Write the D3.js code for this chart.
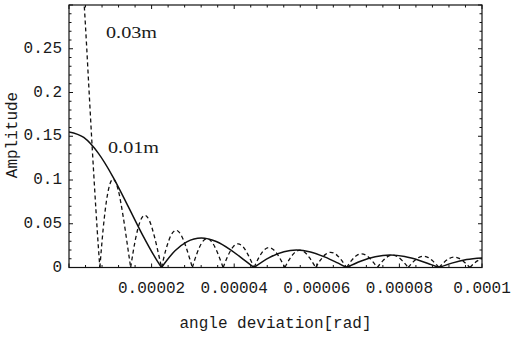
<!DOCTYPE html>
<html>
<head>
<meta charset="utf-8">
<script src="https://cdn.jsdelivr.net/npm/d3@7"></script>
<style>
  body { margin: 0; background: #fff; }
  text { font-family: "Liberation Mono", "DejaVu Sans Mono", monospace; fill: #1a1a1a; }
</style>
</head>
<body>
<svg id="chart"></svg>
<script>
// angle deviation in micro-radians, amplitude
var solidX = [0, 3.57, 7.13, 10.70, 14.26, 17.83, 21.39, 22.4,
  25.67, 28.52, 32.04, 35.65, 39.22, 42.78, 44.8,
  48.49, 52.05, 55.08, 58.47, 62.03, 64.88, 67.2,
  70.59, 74.15, 77.75, 81.28, 84.85, 87.70, 89.6,
  92.69, 96.26, 100];
var solidY = [0.155, 0.1486, 0.1304, 0.1031, 0.0705, 0.0371, 0.0073, 0,
  0.0191, 0.0293, 0.0337, 0.0297, 0.0199, 0.0072, 0,
  0.0113, 0.0181, 0.0199, 0.0178, 0.0118, 0.0055, 0,
  0.0072, 0.0123, 0.0142, 0.0125, 0.0081, 0.0033, 0,
  0.0050, 0.0092, 0.0110];

var dashX = [0, 2.38, 3.57, 4.28, 4.75, 5.94, 7.13, 7.47,
  8.56, 9.51, 10.68, 11.88, 13.07, 14.26, 14.93,
  16.16, 17.35, 18.36, 19.49, 20.68, 21.63, 22.4,
  23.53, 24.72, 25.92, 27.09, 28.28, 29.23, 29.87,
  30.90, 32.09, 33.43, 34.70, 35.89, 36.84, 37.33,
  38.50, 39.69, 40.93, 42.19, 43.37, 44.21, 44.80,
  45.99, 47.18, 48.42, 49.67, 50.86, 51.69, 52.27,
  53.45, 54.64, 55.90, 57.14, 58.32, 59.16, 59.73,
  60.92, 62.10, 63.36, 64.60, 65.79, 66.62, 67.20,
  68.38, 69.57, 70.83, 72.06, 73.25, 74.08, 74.67,
  75.86, 77.05, 78.31, 79.55, 80.74, 81.57, 82.13,
  83.33, 84.52, 85.78, 87.01, 88.20, 89.03, 89.60,
  90.79, 91.98, 93.24, 94.47, 95.66, 96.49, 97.07,
  98.25, 100];
var dashY = [0.465, 0.391, 0.309, 0.252, 0.211, 0.111, 0.022, 0,
  0.0572, 0.0880, 0.1010, 0.0892, 0.0596, 0.0217, 0,
  0.0338, 0.0542, 0.0597, 0.0533, 0.0354, 0.0164, 0,
  0.0215, 0.0370, 0.0425, 0.0375, 0.0242, 0.0100, 0,
  0.0150, 0.0277, 0.0330, 0.0285, 0.0176, 0.0062, 0,
  0.0136, 0.0233, 0.0270, 0.0234, 0.0144, 0.0062, 0,
  0.0115, 0.0197, 0.0228, 0.0197, 0.0121, 0.0051, 0,
  0.0099, 0.0170, 0.0198, 0.0172, 0.0106, 0.0045, 0,
  0.0087, 0.0150, 0.0174, 0.0152, 0.0094, 0.0040, 0,
  0.0078, 0.0134, 0.0156, 0.0136, 0.0084, 0.0036, 0,
  0.0070, 0.0121, 0.0141, 0.0123, 0.0076, 0.0032, 0,
  0.0064, 0.0110, 0.0129, 0.0113, 0.0070, 0.0030, 0,
  0.0058, 0.0101, 0.0119, 0.0104, 0.0064, 0.0027, 0,
  0.0054, 0.0104];

var xTicks = [20, 40, 60, 80, 100];
var xTickLabels = ["0.00002", "0.00004", "0.00006", "0.00008", "0.0001"];
var yTicks = [0, 0.05, 0.1, 0.15, 0.2, 0.25];
var yTickLabels = ["0", "0.05", "0.1", "0.15", "0.2", "0.25"];
var seriesNames = ["0.01m", "0.03m"];

var width = 515, height = 337;
var svg = d3.select("#chart").attr("width", width).attr("height", height);

var x = d3.scaleLinear().domain([0, 100]).range([69, 482]);
var y = d3.scaleLinear().domain([0, 0.3]).range([267.5, 5]);

svg.append("clipPath").attr("id", "plot")
  .append("rect")
  .attr("x", x(0)).attr("y", y(0.3))
  .attr("width", x(100) - x(0)).attr("height", y(0) - y(0.3));

// split a series into lobes at its zeros so the cusps stay sharp
function lobes(xs, ys) {
  var out = [], cur = [];
  for (var i = 0; i < xs.length; i++) {
    cur.push([xs[i], ys[i]]);
    if (ys[i] === 0 && cur.length > 1) { out.push(cur); cur = [[xs[i], ys[i]]]; }
  }
  if (cur.length > 1) out.push(cur);
  return out;
}

var line = d3.line()
  .x(function(d){ return x(d[0]); })
  .y(function(d){ return y(d[1]); })
  .curve(d3.curveMonotoneX);

var g = svg.append("g").attr("clip-path", "url(#plot)");

g.selectAll("path.dash")
  .data(lobes(dashX, dashY))
  .enter().append("path")
  .attr("class", "dash")
  .attr("d", line)
  .attr("fill", "none")
  .attr("stroke", "#111")
  .attr("stroke-width", 1.3)
  .attr("stroke-dasharray", "4,3");

g.selectAll("path.solid")
  .data(lobes(solidX, solidY))
  .enter().append("path")
  .attr("class", "solid")
  .attr("d", line)
  .attr("fill", "none")
  .attr("stroke", "#111")
  .attr("stroke-width", 1.5);

// frame
svg.append("rect")
  .attr("x", x(0)).attr("y", y(0.3))
  .attr("width", x(100) - x(0)).attr("height", y(0) - y(0.3))
  .attr("fill", "none").attr("stroke", "#111").attr("stroke-width", 1.2);

// ticks on all sides, pointing inward
var xMinor = d3.range(0, 100.01, 4);
var yMinor = d3.range(0, 0.3001, 0.01);
var ticks = svg.append("g").attr("stroke", "#111").attr("stroke-width", 1);
xMinor.forEach(function(v){
  var major = Math.abs(v % 20) < 1e-6;
  var len = major ? 4 : 2.5;
  ticks.append("line").attr("x1", x(v)).attr("x2", x(v)).attr("y1", y(0)).attr("y2", y(0) - len);
  ticks.append("line").attr("x1", x(v)).attr("x2", x(v)).attr("y1", y(0.3)).attr("y2", y(0.3) + len);
});
yMinor.forEach(function(v, i){
  var major = i % 5 === 0;
  var len = major ? 4 : 2.5;
  ticks.append("line").attr("y1", y(v)).attr("y2", y(v)).attr("x1", x(0)).attr("x2", x(0) + len);
  ticks.append("line").attr("y1", y(v)).attr("y2", y(v)).attr("x1", x(100)).attr("x2", x(100) - len);
});

// tick labels
svg.selectAll("text.xt")
  .data(xTicks)
  .enter().append("text")
  .attr("class", "xt")
  .attr("x", function(d){ return x(d); })
  .attr("y", 289)
  .attr("text-anchor", "middle")
  .attr("dominant-baseline", "central")
  .style("font-size", "16px")
  .text(function(d, i){ return xTickLabels[i]; });

svg.selectAll("text.yt")
  .data(yTicks)
  .enter().append("text")
  .attr("class", "yt")
  .attr("x", 62)
  .attr("y", function(d){ return y(d); })
  .attr("text-anchor", "end")
  .attr("dominant-baseline", "central")
  .style("font-size", "16px")
  .text(function(d, i){ return yTickLabels[i]; });

// axis titles
svg.append("text")
  .attr("x", x(50)).attr("y", 324)
  .attr("text-anchor", "middle")
  .attr("dominant-baseline", "central")
  .style("font-size", "16px")
  .text("angle deviation[rad]");

svg.append("text")
  .attr("transform", "translate(13,135) rotate(-90)")
  .attr("text-anchor", "middle")
  .attr("dominant-baseline", "central")
  .style("font-size", "16px")
  .text("Amplitude");

// curve labels
svg.append("text")
  .attr("x", 106).attr("y", 38)
  .attr("textLength", 51).attr("lengthAdjust", "spacingAndGlyphs")
  .style("font-family", "'Liberation Serif', serif")
  .style("font-size", "17px")
  .text(seriesNames[1]);

svg.append("text")
  .attr("x", 108).attr("y", 153)
  .attr("textLength", 51).attr("lengthAdjust", "spacingAndGlyphs")
  .style("font-family", "'Liberation Serif', serif")
  .style("font-size", "17px")
  .text(seriesNames[0]);
</script>
</body>
</html>
